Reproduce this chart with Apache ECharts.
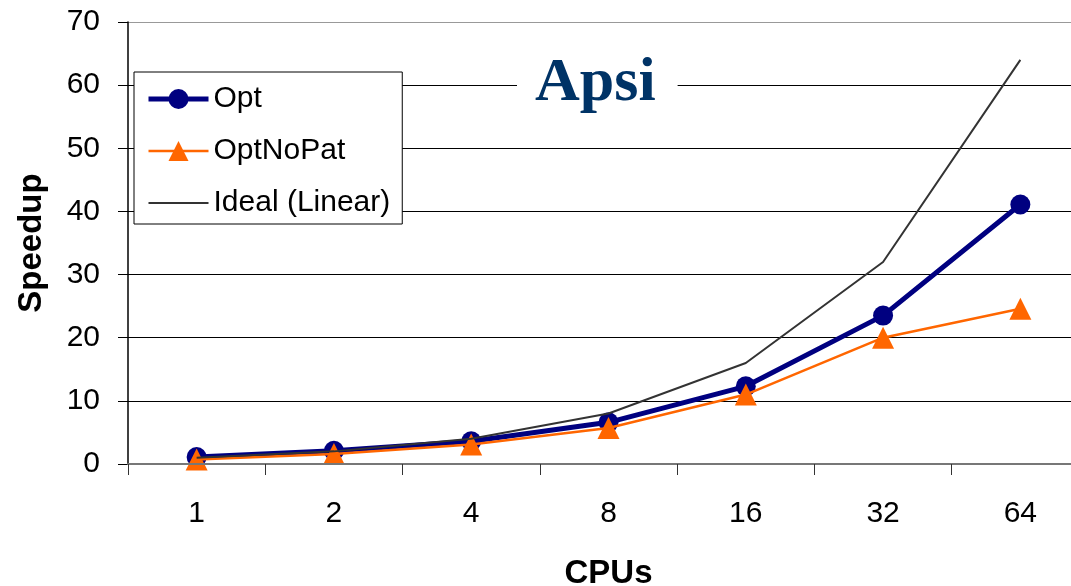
<!DOCTYPE html>
<html>
<head>
<meta charset="utf-8">
<script src="https://cdn.jsdelivr.net/npm/echarts@6/dist/echarts.min.js"></script>
<style>
html,body{margin:0;padding:0;background:#fff;}
#chart{width:1071px;height:586px;}
</style>
</head>
<body>
<div id="chart"></div>
<script>
const categories = ['1', '2', '4', '8', '16', '32', '64'];
const optValues = [1.1, 2.1, 3.6, 6.6, 12.3, 23.5, 41.1];
const optNoPatValues = [0.7, 1.6, 3.1, 5.7, 11.0, 20.0, 24.6];
const idealValues = [1, 2, 4, 8, 16, 32, 64];
const yTicks = [0, 10, 20, 30, 40, 50, 60, 70];
const titleText = 'Apsi';
const xName = 'CPUs';
const yName = 'Speedup';

const chart = echarts.init(document.getElementById('chart'), null, {renderer: 'canvas'});
const font = 'Liberation Sans, Arial, sans-serif';
chart.setOption({
  animation: false,
  backgroundColor: '#ffffff',
  title: {
    text: titleText,
    left: 517,
    top: 49,
    padding: [4, 22, 4, 18],
    backgroundColor: '#ffffff',
    textStyle: {
      fontFamily: 'Liberation Serif, Times New Roman, serif',
      fontWeight: 'bold',
      fontSize: 62,
      color: '#003366'
    }
  },
  legend: {
    orient: 'vertical',
    left: 134,
    top: 72,
    padding: [12, 12, 6, 12],
    itemGap: 22,
    itemWidth: 60,
    itemHeight: 25,
    itemTextGap: 9,
    borderColor: '#000',
    borderWidth: 1,
    borderRadius: 0,
    backgroundColor: '#ffffff',
    textStyle: {fontFamily: font, fontSize: 30, color: '#000'},
    data: [
      {name: 'Opt', lineStyle: {width: 5, color: '#000080'}},
      {name: 'OptNoPat', lineStyle: {width: 2.5, color: '#ff6600'}},
      {name: 'Ideal (Linear)', itemStyle: {opacity: 0}, lineStyle: {width: 2, color: '#333333', opacity: 1}}
    ]
  },
  grid: {left: 128, top: 22, width: 961, height: 442, containLabel: false, outerBoundsMode: 'none'},
  xAxis: {
    type: 'category',
    data: categories,
    boundaryGap: true,
    name: xName,
    nameLocation: 'middle',
    nameGap: 93,
    nameTextStyle: {fontFamily: font, fontSize: 33, fontWeight: 'bold', color: '#000'},
    axisLine: {show: true, lineStyle: {color: '#777', width: 2}},
    axisTick: {show: true, length: 11, lineStyle: {color: '#333', width: 1}},
    axisLabel: {fontFamily: font, fontSize: 30, color: '#000', margin: 35},
    z: 5
  },
  yAxis: {
    type: 'value',
    min: yTicks[0],
    max: yTicks[yTicks.length - 1],
    interval: 10,
    name: yName,
    nameLocation: 'middle',
    nameGap: 80,
    nameRotate: 90,
    nameTextStyle: {fontFamily: font, fontSize: 33, fontWeight: 'bold', color: '#000'},
    axisLine: {show: true, lineStyle: {color: '#000', width: 1.5}},
    axisTick: {show: true, length: 10, lineStyle: {color: '#000', width: 1}},
    axisLabel: {fontFamily: font, fontSize: 30, color: '#000', margin: 28},
    splitLine: {show: true, lineStyle: {color: ['#888', '#000', '#000', '#000', '#000', '#000', '#000', '#999'], width: 1}}
  },
  series: [
    {
      name: 'Opt',
      type: 'line',
      data: optValues,
      symbol: 'circle',
      symbolSize: 20,
      color: '#000080',
      lineStyle: {color: '#000080', width: 5},
      itemStyle: {color: '#000080'},
      z: 3
    },
    {
      name: 'OptNoPat',
      type: 'line',
      data: optNoPatValues,
      symbol: 'triangle',
      symbolSize: 22,
      color: '#ff6600',
      lineStyle: {color: '#ff6600', width: 2.5},
      itemStyle: {color: '#ff6600'},
      z: 4
    },
    {
      name: 'Ideal (Linear)',
      type: 'line',
      data: idealValues,
      symbol: 'none',
      color: '#333333',
      lineStyle: {color: '#333333', width: 2},
      z: 5
    }
  ]
});
</script>
</body>
</html>
